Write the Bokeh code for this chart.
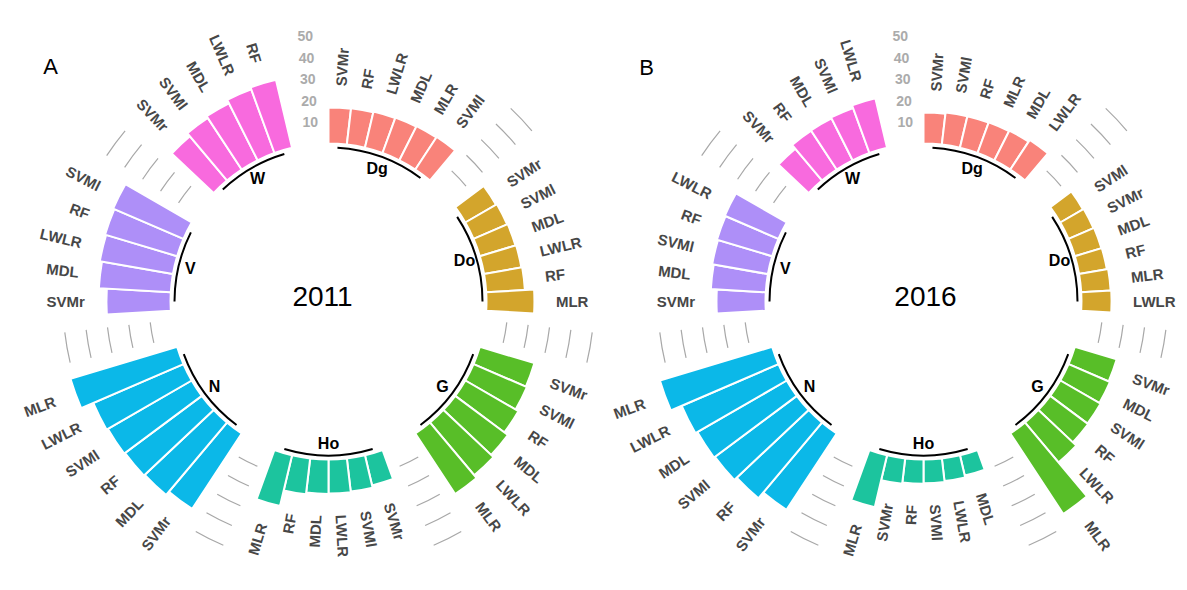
import math
from bokeh.plotting import figure
from bokeh.models import Range1d
from bokeh.core.properties import value
from bokeh.embed import file_html
from bokeh.resources import INLINE

# ---------------- data ----------------
groups = ["Dg", "Do", "G", "Ho", "N", "V", "W"]
group_colors = ["#F9837A", "#D3A52C", "#58BE28", "#1CC49E", "#0BB8E8", "#AE8FF8", "#F86ADE"]

models_2011 = [
    ["SVMr", "RF", "LWLR", "MDL", "MLR", "SVMl"],
    ["SVMr", "SVMl", "MDL", "LWLR", "RF", "MLR"],
    ["SVMr", "SVMl", "RF", "MDL", "LWLR", "MLR"],
    ["SVMr", "SVMl", "LWLR", "MDL", "RF", "MLR"],
    ["SVMr", "MDL", "RF", "SVMl", "LWLR", "MLR"],
    ["SVMr", "MDL", "LWLR", "RF", "SVMl"],
    ["SVMr", "SVMl", "MDL", "LWLR", "RF"],
]
values_2011 = [
    [16.8, 17.0, 17.3, 17.5, 17.8, 18.2],
    [16.5, 17.0, 17.3, 17.6, 18.0, 22.3],
    [26.5, 27.0, 28.5, 30.5, 32.0, 33.7],
    [14.4, 15.5, 15.8, 16.0, 16.8, 24.3],
    [42.0, 44.0, 44.5, 45.0, 45.7, 51.8],
    [29.8, 33.5, 34.5, 35.0, 35.6],
    [26.8, 28.7, 29.7, 31.5, 32.5],
]

models_2016 = [
    ["SVMr", "SVMl", "RF", "MLR", "MDL", "LWLR"],
    ["SVMl", "SVMr", "MDL", "RF", "MLR", "LWLR"],
    ["SVMr", "MDL", "SVMl", "RF", "LWLR", "MLR"],
    ["MDL", "LWLR", "SVMl", "RF", "SVMr", "MLR"],
    ["SVMr", "RF", "SVMl", "MDL", "LWLR", "MLR"],
    ["SVMr", "MDL", "SVMl", "RF", "LWLR"],
    ["SVMr", "RF", "MDL", "SVMl", "LWLR"],
]
values_2016 = [
    [14.4, 15.0, 15.1, 15.2, 15.5, 16.5],
    [12.2, 12.6, 12.9, 13.1, 13.7, 14.0],
    [20.3, 21.0, 21.6, 22.0, 24.2, 44.8],
    [9.7, 10.6, 11.0, 11.3, 11.9, 24.8],
    [42.5, 46.0, 47.5, 48.0, 49.0, 54.5],
    [22.8, 25.6, 26.3, 26.8, 27.2],
    [19.3, 21.6, 21.8, 22.3, 23.6],
]

scale_ticks = [10, 20, 30, 40, 50]
panel_letters = ["A", "B"]
panel_years = ["2011", "2016"]

# ---------------- geometry ----------------
W_PX, H_PX = 1179, 574
EMPTY = 2          # empty slots after each group
R0 = 158.0         # radius of value 0 (px)
K = 2.15           # px per unit
LABEL_FONT = value("Liberation Sans")

p = figure(width=W_PX, height=H_PX, output_backend="svg", toolbar_location=None,
           x_range=Range1d(0, W_PX), y_range=Range1d(-H_PX, 0),
           min_border=0, x_axis_type=None, y_axis_type=None)
p.grid.visible = False
p.outline_line_color = None
p.background_fill_color = "white"
p.border_fill_color = "white"


def ba(theta_deg):
    """clockwise-from-top degrees -> bokeh angle (rad)"""
    return math.radians(90.0 - theta_deg)


def pol(cx, cy, r, theta_deg):
    t = math.radians(theta_deg)
    return cx + r * math.sin(t), cy + r * math.cos(t)


def draw_panel(cx, cy_px, models, vals, letter, year, text_pos, letter_pos):
    cy = -cy_px
    sizes = [len(v) for v in vals]
    n_slots = sum(sizes) + EMPTY * len(sizes)
    s = 360.0 / n_slots

    slot = 0
    group_ranges = []
    for gi, (mods, vs) in enumerate(zip(models, vals)):
        first = slot
        th0 = [(slot + j) * s for j in range(len(vs))]
        th1 = [(slot + j + 1) * s for j in range(len(vs))]
        outer = [R0 + K * v for v in vs]
        p.annular_wedge(x=cx, y=cy, inner_radius=R0, outer_radius=outer,
                        start_angle=[ba(t) for t in th1], end_angle=[ba(t) for t in th0],
                        direction="anticlock", fill_color=group_colors[gi],
                        line_color="white", line_width=2)
        for j, (m, v) in enumerate(zip(mods, vs)):
            idx = slot + j + 1
            theta = 360.0 * (idx - 0.5) / n_slots
            r_lab = R0 + K * (v + 10)
            x, y = pol(cx, cy, r_lab, theta)
            if theta > 180:
                ang = math.radians(270 - theta)
                align = "right"
            else:
                ang = math.radians(90 - theta)
                align = "left"
            p.text(x=[x], y=[y], text=[m], angle=ang, text_align=align,
                   text_baseline="middle", text_font=LABEL_FONT,
                   text_font_style="bold", text_font_size="15px", text_color="#474747")
        slot += len(vs)
        last = slot - 1
        group_ranges.append((first, last))
        slot += EMPTY

    # base arcs + group names
    for gi, (first, last) in enumerate(group_ranges):
        a_first = (first + 0.5) * s
        a_last = (last + 0.5) * s
        p.arc(x=cx, y=cy, radius=R0 - 4, start_angle=ba(a_last), end_angle=ba(a_first),
              direction="anticlock", line_color="black", line_width=2)
        mid = 0.5 * (a_first + a_last)
        x, y = pol(cx, cy, R0 - 16, mid)
        p.text(x=[x], y=[y], text=[groups[gi]], text_align="center", text_baseline="middle",
               text_font=LABEL_FONT, text_font_style="bold", text_font_size="16px",
               text_color="black")

    # grid arcs in gaps (skip the gap before the first group)
    for gi in range(1, len(group_ranges)):
        prev_last = group_ranges[gi - 1][1]
        a_start = (prev_last + 1.5) * s
        a_end = (prev_last + EMPTY + 0.5) * s
        for t in scale_ticks:
            p.arc(x=cx, y=cy, radius=R0 + K * t, start_angle=ba(a_end), end_angle=ba(a_start),
                  direction="anticlock", line_color="#a8a8a8", line_width=1.2)

    # scale labels at the last slot
    a_scale = 360.0 - s / 2
    xs, ys = [], []
    for t in scale_ticks:
        x, y = pol(cx, cy, R0 + K * t, a_scale)
        xs.append(x)
        ys.append(y)
    p.text(x=xs, y=ys, text=[str(t) for t in scale_ticks], text_align="right",
           text_baseline="middle", text_font=LABEL_FONT, text_font_style="bold",
           text_font_size="14px", text_color="#ababab")

    p.text(x=[text_pos[0]], y=[-text_pos[1]], text=[year], text_align="center",
           text_baseline="middle", text_font=value("Liberation Sans"),
           text_font_size="28px", text_color="black")
    p.text(x=[letter_pos[0]], y=[-letter_pos[1]], text=[letter], text_align="center",
           text_baseline="middle", text_font=value("Liberation Sans"),
           text_font_size="22px", text_color="black")


draw_panel(328, 301, models_2011, values_2011, panel_letters[0], panel_years[0], (322, 296), (50, 66))
draw_panel(923, 301, models_2016, values_2016, panel_letters[1], panel_years[1], (925, 296), (646, 67))

open("out.html", "w").write(file_html(p, INLINE))
